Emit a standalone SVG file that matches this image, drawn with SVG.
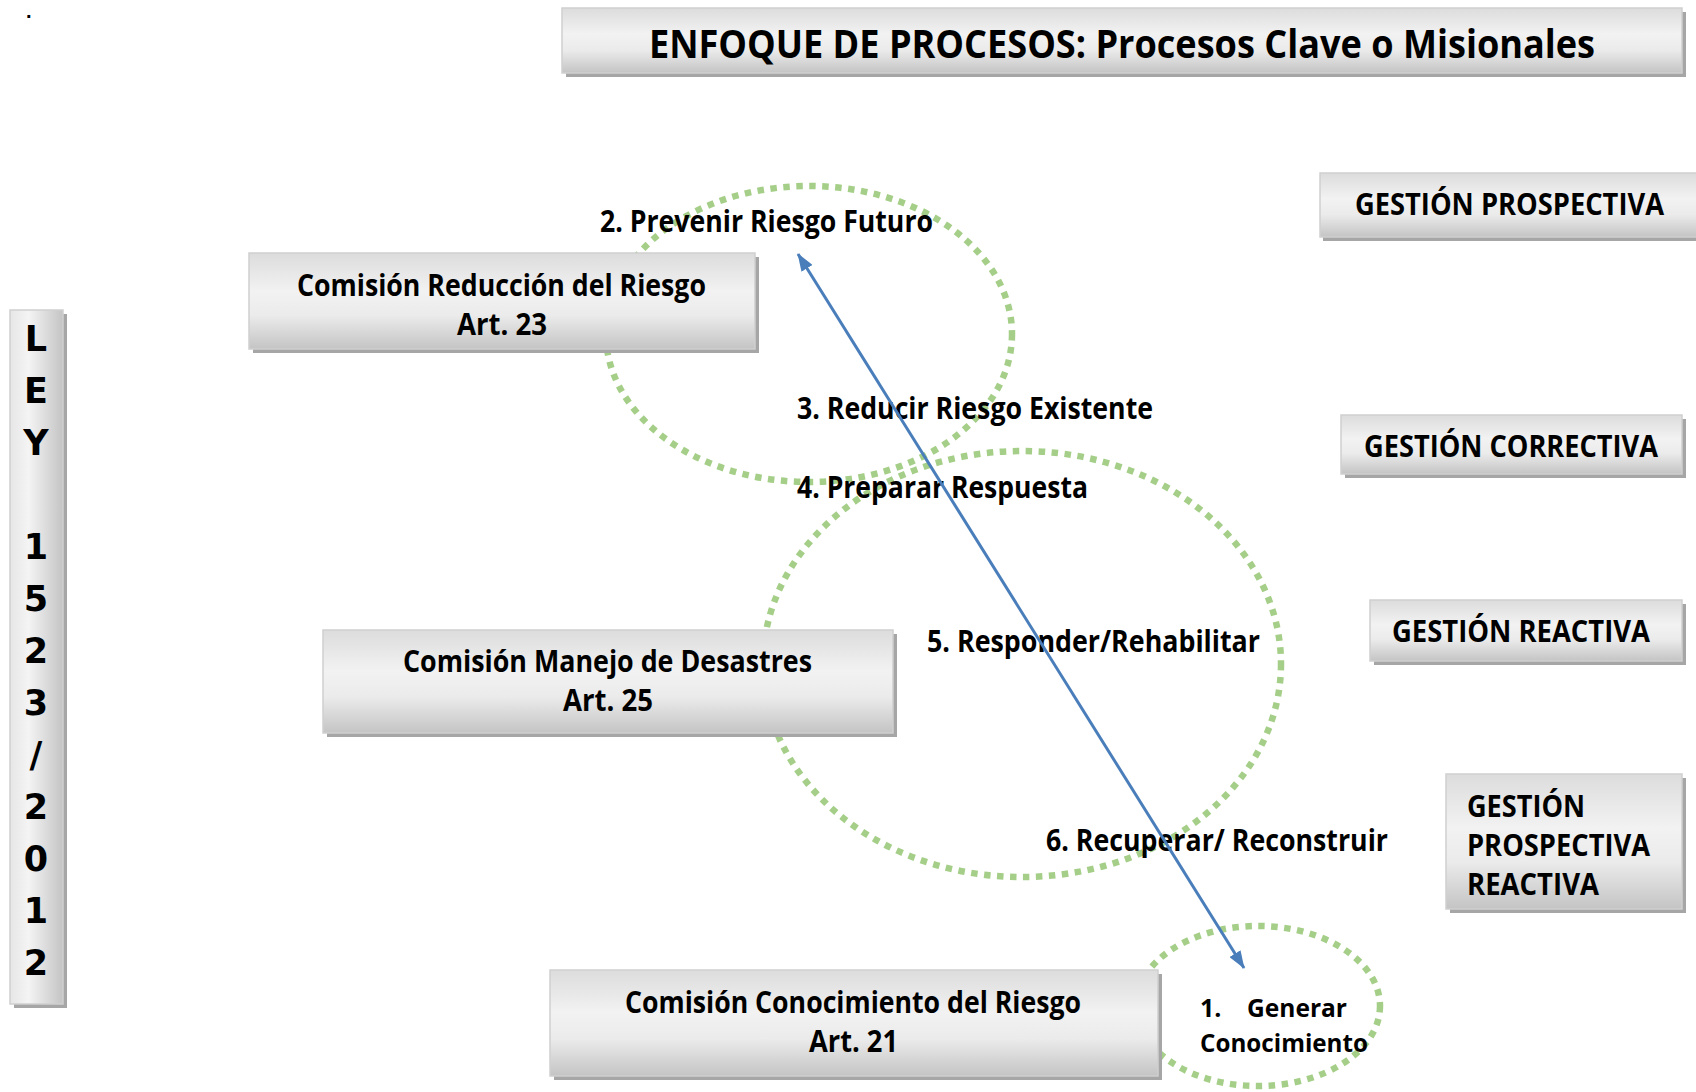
<svg xmlns="http://www.w3.org/2000/svg" width="1696" height="1092" viewBox="0 0 1696 1092">
<defs>
<linearGradient id="gv" x1="0" y1="0" x2="0" y2="1">
<stop offset="0" stop-color="#dcdcdc"/>
<stop offset="0.4" stop-color="#f2f2f2"/>
<stop offset="0.65" stop-color="#ebebeb"/>
<stop offset="1" stop-color="#c4c4c4"/>
</linearGradient>
<linearGradient id="gh" x1="0" y1="0" x2="1" y2="0">
<stop offset="0" stop-color="#e6e6e6"/>
<stop offset="0.35" stop-color="#f4f4f4"/>
<stop offset="1" stop-color="#c4c4c4"/>
</linearGradient>
<marker id="ah" viewBox="0 0 18 13" refX="17" refY="6.5" markerWidth="18" markerHeight="13" markerUnits="userSpaceOnUse" orient="auto-start-reverse">
<path d="M0,0 L18,6.5 L0,13 Z" fill="#4a7ebb"/>
</marker>
<style>
.box{fill:url(#gv);stroke:#cfcfcf;stroke-width:1.5}
.vbox{fill:url(#gh);stroke:#cfcfcf;stroke-width:1.5}
.sh{fill:#a6a6a6}
.t{font-family:"Open Sans",Lato,"Liberation Sans",sans-serif;font-weight:700;fill:#000;font-size:29.5px}
.tt{font-family:"Open Sans",Lato,"Liberation Sans",sans-serif;font-weight:700;fill:#000;font-size:40px}
.ts{font-family:"Open Sans",Lato,"Liberation Sans",sans-serif;font-weight:700;fill:#000;font-size:25px}
.ley{font-family:"DejaVu Sans",Verdana,sans-serif;font-weight:700;fill:#000;font-size:35px;text-anchor:middle}
.ring{fill:none;stroke:#a5cf88;stroke-width:6.5;stroke-dasharray:6.5 6.5}
.arr{stroke:#4a7ebb;stroke-width:3;fill:none}
</style>
</defs>
<rect width="1696" height="1092" fill="#ffffff"/>
<text x="26" y="18" style="font-family:'Liberation Sans',sans-serif;font-weight:700;font-size:20px;fill:#000">.</text>

<g id="rings">
<ellipse class="ring" cx="809" cy="334" rx="203" ry="148"/>
<ellipse class="ring" cx="1022" cy="664" rx="259" ry="213"/>
<ellipse class="ring" cx="1258" cy="1006" rx="122" ry="80"/>
</g>

<g id="title">
<rect class="sh" x="566" y="12" width="1120" height="65"/>
<rect class="box" x="562" y="8" width="1120" height="65"/>
<text class="tt" x="649" y="58" textLength="946" lengthAdjust="spacingAndGlyphs">ENFOQUE DE PROCESOS: Procesos Clave o Misionales</text>
</g>

<g id="ley">
<rect class="sh" x="14" y="314" width="53" height="694"/>
<rect class="vbox" x="10" y="310" width="53" height="694"/>
<text class="ley" x="36" y="351">L</text>
<text class="ley" x="36" y="403">E</text>
<text class="ley" x="36" y="455">Y</text>
<text class="ley" x="36" y="559">1</text>
<text class="ley" x="36" y="611">5</text>
<text class="ley" x="36" y="663">2</text>
<text class="ley" x="36" y="715">3</text>
<text class="ley" x="36" y="767">/</text>
<text class="ley" x="36" y="819">2</text>
<text class="ley" x="36" y="871">0</text>
<text class="ley" x="36" y="923">1</text>
<text class="ley" x="36" y="975">2</text>
</g>

<g id="com-reduccion">
<rect class="sh" x="253" y="257" width="506" height="96"/>
<rect class="box" x="249" y="253" width="506" height="96"/>
<text class="t" x="297" y="296" textLength="409" lengthAdjust="spacingAndGlyphs">Comisión Reducción del Riesgo</text>
<text class="t" x="457" y="335" textLength="90" lengthAdjust="spacingAndGlyphs">Art. 23</text>
</g>

<g id="com-manejo">
<rect class="sh" x="327" y="634" width="570" height="103"/>
<rect class="box" x="323" y="630" width="570" height="103"/>
<text class="t" x="403" y="672" textLength="409" lengthAdjust="spacingAndGlyphs">Comisión Manejo de Desastres</text>
<text class="t" x="563" y="711" textLength="90" lengthAdjust="spacingAndGlyphs">Art. 25</text>
</g>

<g id="com-conocimiento">
<rect class="sh" x="554" y="974" width="608" height="106"/>
<rect class="box" x="550" y="970" width="608" height="106"/>
<text class="t" x="625" y="1013" textLength="456" lengthAdjust="spacingAndGlyphs">Comisión Conocimiento del Riesgo</text>
<text class="t" x="809" y="1052" textLength="89" lengthAdjust="spacingAndGlyphs">Art. 21</text>
</g>

<g id="g-prospectiva">
<rect class="sh" x="1323" y="177" width="380" height="64"/>
<rect class="box" x="1320" y="173" width="380" height="64"/>
<text class="t" x="1355" y="215" textLength="309" lengthAdjust="spacingAndGlyphs">GESTIÓN PROSPECTIVA</text>
</g>

<g id="g-correctiva">
<rect class="sh" x="1345" y="419" width="341" height="59"/>
<rect class="box" x="1341" y="415" width="341" height="59"/>
<text class="t" x="1364" y="457" textLength="294" lengthAdjust="spacingAndGlyphs">GESTIÓN CORRECTIVA</text>
</g>

<g id="g-reactiva">
<rect class="sh" x="1374" y="604" width="312" height="61"/>
<rect class="box" x="1370" y="600" width="312" height="61"/>
<text class="t" x="1392" y="642" textLength="258" lengthAdjust="spacingAndGlyphs">GESTIÓN REACTIVA</text>
</g>

<g id="g-pros-reac">
<rect class="sh" x="1450" y="778" width="236" height="135"/>
<rect class="box" x="1446" y="774" width="236" height="135"/>
<text class="t" x="1467" y="817" textLength="118" lengthAdjust="spacingAndGlyphs">GESTIÓN</text>
<text class="t" x="1467" y="856" textLength="183" lengthAdjust="spacingAndGlyphs">PROSPECTIVA</text>
<text class="t" x="1467" y="895" textLength="132" lengthAdjust="spacingAndGlyphs">REACTIVA</text>
</g>

<g id="labels">
<text class="t" x="600" y="232" textLength="333" lengthAdjust="spacingAndGlyphs">2. Prevenir Riesgo Futuro</text>
<text class="t" x="797" y="419" textLength="356" lengthAdjust="spacingAndGlyphs">3. Reducir Riesgo Existente</text>
<text class="t" x="797" y="498" textLength="291" lengthAdjust="spacingAndGlyphs">4. Preparar Respuesta</text>
<text class="t" x="927" y="652" textLength="333" lengthAdjust="spacingAndGlyphs">5. Responder/Rehabilitar</text>
<text class="t" x="1046" y="851" textLength="342" lengthAdjust="spacingAndGlyphs">6. Recuperar/ Reconstruir</text>
<text class="ts" x="1200" y="1017">1.</text>
<text class="ts" x="1247" y="1017" textLength="100" lengthAdjust="spacingAndGlyphs">Generar</text>
<text class="ts" x="1200" y="1052" textLength="168" lengthAdjust="spacingAndGlyphs">Conocimiento</text>
</g>

<g id="connectors">
<line class="arr" x1="798" y1="254" x2="1244" y2="968" marker-start="url(#ah)" marker-end="url(#ah)"/>
</g>
</svg>
